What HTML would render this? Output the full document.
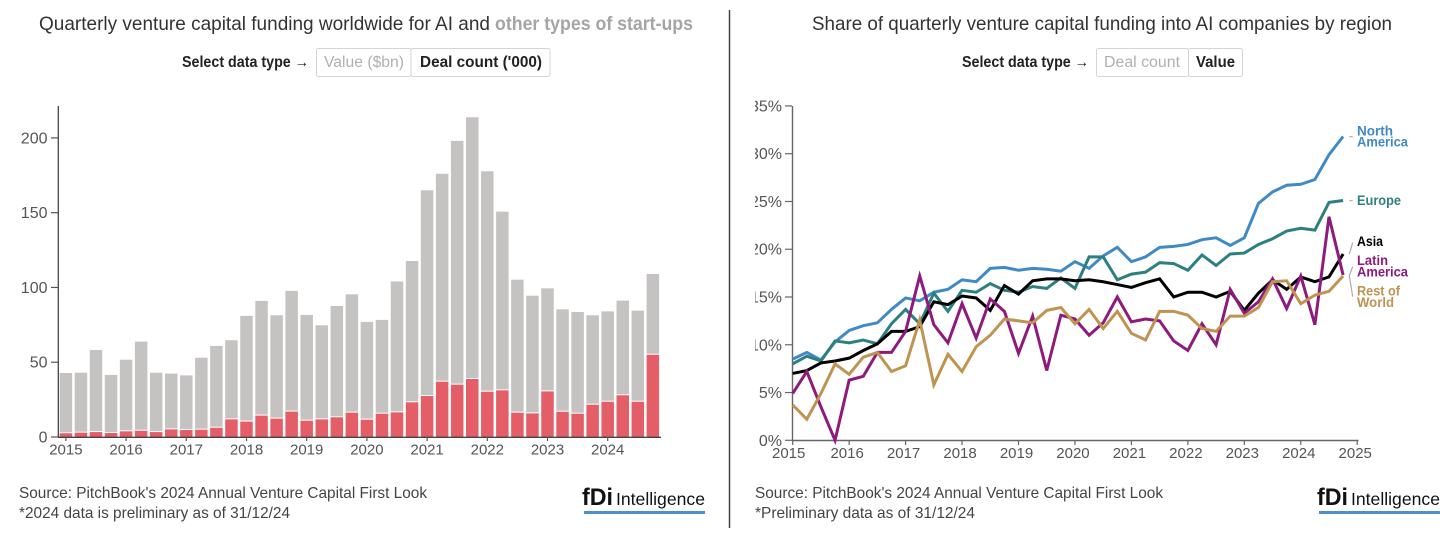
<!DOCTYPE html>
<html lang="en">
<head>
<meta charset="utf-8">
<title>AI venture capital funding</title>
<style>
html,body{margin:0;padding:0;background:#fff;width:1456px;height:538px;overflow:hidden}
svg{display:block;font-family:"Liberation Sans",sans-serif}
.btn{fill:#fff;stroke:#d4d4d4;stroke-width:1}
.src{font-size:16px;fill:#444}
.ttl{font-size:19.5px;fill:#333}
.lbl{font-size:15.5px;fill:#222;font-weight:bold}
.tick{font-size:15px;fill:#555}
.ytick{font-size:16px;fill:#555}
.end{font-size:14px;font-weight:bold}
.cn{stroke:#aaa;stroke-width:1.2;fill:none}
</style>
</head>
<body>
<svg id="root" width="1456" height="538" viewBox="0 0 1456 538" xmlns="http://www.w3.org/2000/svg">
  <defs><clipPath id="rclip"><rect x="755" y="90" width="45" height="370"/></clipPath></defs>

  <line x1="729.5" y1="10" x2="729.5" y2="528" stroke="#444" stroke-width="1.5"/>

  <text class="ttl" x="39" y="30" textLength="451" lengthAdjust="spacingAndGlyphs">Quarterly venture capital funding worldwide for AI and</text>
  <text class="ttl" x="495" y="30" textLength="198" lengthAdjust="spacingAndGlyphs" style="fill:#a5a5a5;font-weight:bold">other types of start-ups</text>
  <text class="lbl" x="182" y="67" textLength="127" lengthAdjust="spacingAndGlyphs">Select data type →</text>
  <g>
    <rect class="btn" x="316.5" y="48.5" width="94.5" height="28" rx="2"/>
    <rect class="btn" x="411" y="48.5" width="139" height="28" rx="2"/>
    <text class="lbl" x="324" y="67" textLength="80" lengthAdjust="spacingAndGlyphs" style="fill:#b0b0b0;font-weight:normal">Value ($bn)</text>
    <text class="lbl" x="420" y="67" textLength="122" lengthAdjust="spacingAndGlyphs">Deal count ('000)</text>
  </g>

  <text class="ttl" x="812" y="30" textLength="580" lengthAdjust="spacingAndGlyphs">Share of quarterly venture capital funding into AI companies by region</text>
  <text class="lbl" x="962" y="67" textLength="127" lengthAdjust="spacingAndGlyphs">Select data type →</text>
  <g>
    <rect class="btn" x="1096.5" y="48.5" width="92" height="28" rx="2"/>
    <rect class="btn" x="1188.5" y="48.5" width="54" height="28" rx="2"/>
    <text class="lbl" x="1104" y="67" textLength="76" lengthAdjust="spacingAndGlyphs" style="fill:#b0b0b0;font-weight:normal">Deal count</text>
    <text class="lbl" x="1196" y="67" textLength="39" lengthAdjust="spacingAndGlyphs">Value</text>
  </g>

  <g id="barChart"></g>
  <g id="lineChart"></g>

  <g>
    <path class="cn" d="M1349.3 136.7H1352.7M1349.3 200.7H1352.7M1349.3 254L1352.7 242.7M1352.7 266.7L1349.3 275.7L1352.7 296.7"/>
    <text class="end" x="1357" y="135.5" fill="#3f8ac6" textLength="36" lengthAdjust="spacingAndGlyphs">North</text>
    <text class="end" x="1357" y="146.7" fill="#3f8ac6" textLength="51" lengthAdjust="spacingAndGlyphs">America</text>
    <text class="end" x="1357" y="205" fill="#2e7f7f" textLength="44" lengthAdjust="spacingAndGlyphs">Europe</text>
    <text class="end" x="1357" y="246" fill="#000" textLength="26" lengthAdjust="spacingAndGlyphs">Asia</text>
    <text class="end" x="1357" y="265" fill="#8e1a7e" textLength="31" lengthAdjust="spacingAndGlyphs">Latin</text>
    <text class="end" x="1357" y="276.7" fill="#8e1a7e" textLength="51" lengthAdjust="spacingAndGlyphs">America</text>
    <text class="end" x="1357" y="295.7" fill="#bf9452" textLength="43" lengthAdjust="spacingAndGlyphs">Rest of</text>
    <text class="end" x="1357" y="307" fill="#bf9452" textLength="37" lengthAdjust="spacingAndGlyphs">World</text>
  </g>

  <text class="src" x="19" y="498" textLength="408" lengthAdjust="spacingAndGlyphs">Source: PitchBook's 2024 Annual Venture Capital First Look</text>
  <text class="src" x="19" y="518" textLength="271" lengthAdjust="spacingAndGlyphs">*2024 data is preliminary as of 31/12/24</text>
  <text class="src" x="755" y="498" textLength="408" lengthAdjust="spacingAndGlyphs">Source: PitchBook's 2024 Annual Venture Capital First Look</text>
  <text class="src" x="755" y="518" textLength="220" lengthAdjust="spacingAndGlyphs">*Preliminary data as of 31/12/24</text>

  <g>
    <text x="582" y="505" textLength="31" lengthAdjust="spacingAndGlyphs" style="font-size:24px;font-weight:bold;fill:#111">fDi</text>
    <text x="616" y="505" textLength="89" lengthAdjust="spacingAndGlyphs" style="font-size:17.5px;fill:#111">Intelligence</text>
    <rect x="584" y="511" width="121" height="3" fill="#4a90cc"/>
  </g>
  <g>
    <text x="1317" y="505" textLength="31" lengthAdjust="spacingAndGlyphs" style="font-size:24px;font-weight:bold;fill:#111">fDi</text>
    <text x="1351" y="505" textLength="89" lengthAdjust="spacingAndGlyphs" style="font-size:17.5px;fill:#111">Intelligence</text>
    <rect x="1319" y="511" width="121" height="3" fill="#4a90cc"/>
  </g>
</svg>

<script>
const barYears = ['2015','2016','2017','2018','2019','2020','2021','2022','2023','2024'];
const barTicks = [0,50,100,150,200];
const totalDeals = [42.8,43,58.2,41.5,51.7,63.8,43,42.4,41.2,53,60.9,64.7,81,91,81.4,97.7,81.6,74.7,87.6,95.4,77,78.3,104,117.7,165,176,198,213.8,177.7,150.7,105.2,94.5,99.4,85.4,83.6,81.4,84,91.2,84.5,109];
const aiDeals = [2.5,2.9,3.3,2.7,3.8,4.2,3.3,5.1,4.7,4.9,6.2,11.8,10.3,14.3,12.3,17,10.9,11.8,13.2,16.3,11.6,15.6,16.5,23.2,27.4,37,35,38.8,30.3,31.2,16.3,15.8,30.5,16.9,15.6,21.6,23.6,27.9,23.6,55];

const lineYears = ['2015','2016','2017','2018','2019','2020','2021','2022','2023','2024','2025'];
const lineTicks = [0,5,10,15,20,25,30,35];
const northAmerica = [8.5,9.2,8.4,10.3,11.5,12,12.3,13.7,14.9,14.6,15.5,15.8,16.8,16.6,18,18.1,17.8,18,17.9,17.7,18.7,18,19.3,20.2,18.7,19.2,20.2,20.3,20.5,21,21.2,20.4,21.2,24.8,26,26.7,26.8,27.3,29.9,31.8];
const europe = [8,8.8,8.3,10.4,10.2,10.5,10.1,12.2,13.7,12.2,15.4,13.5,15.7,15.5,16.4,15.7,15.5,16.1,15.9,17,15.9,19.2,19.2,16.8,17.4,17.6,18.6,18.5,17.8,19.4,18.3,19.5,19.6,20.5,21.1,21.9,22.2,22,24.9,25.1];
const asia = [7,7.3,8.1,8.3,8.6,9.4,10.1,11.4,11.4,11.9,14.5,14.2,15.1,14.9,13.6,16.2,15.3,16.7,16.9,16.9,16.7,16.8,16.6,16.3,16,16.5,16.9,15,15.5,15.5,15,15.6,13.6,15.4,16.8,15.8,17.1,16.6,17.1,19.5];
const latinAmerica = [4.9,7.2,3.5,0,6.3,6.7,9.2,9.2,11.4,17.2,12.1,10.2,14.3,10.7,14.8,13.5,9.1,13,7.3,13.1,12.7,11,12.3,15,12.4,12.7,12.5,10.4,9.4,12.2,10,15.8,13.3,14.5,16.9,13.8,17.2,12.1,23.4,17.3];
const restOfWorld = [3.7,2.2,4.9,8,6.9,8.7,9.2,7.2,7.8,12.6,5.8,9,7.2,9.8,11,12.7,12.5,12.3,13.6,13.9,12.2,13.7,11.7,13.5,11.2,10.5,13.5,13.5,13.1,11.7,11.4,13,13,13.9,16.6,16.7,14.3,15.2,15.6,17.2];

const NS = 'http://www.w3.org/2000/svg';
function mk(parent, tag, attrs, txt) {
  const el = document.createElementNS(NS, tag);
  for (const k in attrs) el.setAttribute(k, attrs[k]);
  if (txt !== undefined) el.textContent = txt;
  parent.appendChild(el);
  return el;
}

/* ---------- bar chart ---------- */
const bc = document.getElementById('barChart');
const barX = q => 65.9 + 15.05 * q;
const barY = v => 437 - v * 1.4955;
const barW = 12.5;

totalDeals.forEach((t, i) => {
  const a = aiDeals[i];
  const g = mk(bc, 'rect', {x: barX(i) - barW / 2, y: barY(t), width: barW, height: Math.max(0, barY(a) - barY(t) - 1), fill: '#c5c3c2'});
  
  
  const r = mk(bc, 'rect', {x: barX(i) - barW / 2, y: barY(a), width: barW, height: barY(0) - barY(a), fill: '#e45e67'});
  
  
});

const bya = mk(bc, 'line', {x1: 58.3, y1: 106, x2: 58.3, y2: 437.5, stroke: '#444', 'stroke-width': 1.3});


const bxa = mk(bc, 'line', {x1: 58, y1: 437.3, x2: 661, y2: 437.3, stroke: '#444', 'stroke-width': 1.3});



barTicks.forEach(v => {
  const m = mk(bc, 'line', {x1: 51, x2: 58, y1: barY(v), y2: barY(v), stroke: '#555', 'stroke-width': 1.2});
  
  
  const t = mk(bc, 'text', {x: 47.5, y: barY(v) + 5.5, 'text-anchor': 'end', class: 'ytick'}, String(v));
  
  
});
barYears.forEach((y, i) => {
  const x = barX(i * 4);
  const m = mk(bc, 'line', {x1: x, x2: x, y1: 437, y2: 441, stroke: '#555', 'stroke-width': 1.2});
  
  
  const t = mk(bc, 'text', {x: x, y: 454.5, 'text-anchor': 'middle', class: 'tick'}, y);
  
  
});

/* ---------- line chart ---------- */
const lc = document.getElementById('lineChart');
const lineX = q => 792.7 + 14.113 * q;
const lineY = v => 440.3 - v * 9.553;

const lya = mk(lc, 'line', {x1: 792.5, y1: 106, x2: 792.5, y2: 441, stroke: '#666', 'stroke-width': 1.4});


const lxa = mk(lc, 'line', {x1: 792, y1: 440.5, x2: 1358.5, y2: 440.5, stroke: '#666', 'stroke-width': 1.4});



const yLabGroup = mk(lc, 'g', {'clip-path': 'url(#rclip)'});


lineTicks.forEach(v => {
  const m = mk(lc, 'line', {x1: 785, x2: 792, y1: lineY(v), y2: lineY(v), stroke: '#666', 'stroke-width': 1.2});
  
  
  const t = mk(yLabGroup, 'text', {x: 782, y: lineY(v) + 5.5, 'text-anchor': 'end', class: 'ytick'}, v + '%');
  
  
});
lineYears.forEach((y, i) => {
  const x = lineX(i * 4);
  const m = mk(lc, 'line', {x1: x, x2: x, y1: 440, y2: 445, stroke: '#666', 'stroke-width': 1.2});
  
  
  const t = mk(lc, 'text', {x: x - (i === 0 ? 4 : 2), y: 458, 'text-anchor': 'middle', class: 'tick'}, y);
  
  
});

function drawLine(values, colour, name) {
  const d = values.map((v, i) => (i ? 'L' : 'M') + lineX(i).toFixed(2) + ' ' + lineY(v).toFixed(2)).join('');
  const p = mk(lc, 'path', {d: d, fill: 'none', stroke: colour, 'stroke-width': 3, 'stroke-linejoin': 'miter'});
  
  
}
drawLine(northAmerica, '#3f8ac6', 'north-america-line');
drawLine(europe, '#2e7f7f', 'europe-line');
drawLine(asia, '#000000', 'asia-line');
drawLine(latinAmerica, '#8e1a7e', 'latin-america-line');
drawLine(restOfWorld, '#bf9452', 'rest-of-world-line');
</script>
</body>
</html>
